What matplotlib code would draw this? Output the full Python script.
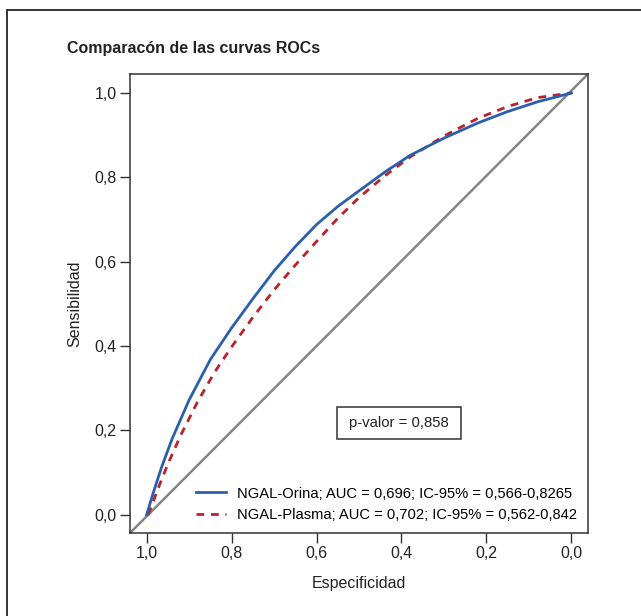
import matplotlib
matplotlib.use("Agg")
import matplotlib.pyplot as plt
from matplotlib.patches import Rectangle

plt.rcParams['font.family'] = ['Liberation Sans', 'DejaVu Sans']

# Data (Especificidad, Sensibilidad)
orina_spec = [1.0, 0.985, 0.965, 0.94, 0.90, 0.85, 0.80, 0.75, 0.70, 0.65, 0.60, 0.55, 0.50, 0.44, 0.38, 0.30, 0.22, 0.15, 0.08, 0.0]
orina_sens = [0.0, 0.050, 0.112, 0.180, 0.272, 0.368, 0.443, 0.512, 0.578, 0.636, 0.688, 0.731, 0.768, 0.812, 0.852, 0.893, 0.929, 0.956, 0.979, 1.0]
plasma_spec = [0.996, 0.97, 0.95, 0.92, 0.88, 0.84, 0.80, 0.75, 0.70, 0.65, 0.60, 0.55, 0.50, 0.44, 0.38, 0.30, 0.22, 0.15, 0.08, 0.0]
plasma_sens = [0.0, 0.070, 0.120, 0.188, 0.268, 0.338, 0.398, 0.468, 0.533, 0.592, 0.648, 0.703, 0.752, 0.803, 0.848, 0.898, 0.940, 0.968, 0.989, 1.0]
ref_spec = [1.039, -0.039]
ref_sens = [-0.043, 1.045]
ticks = [1.0, 0.8, 0.6, 0.4, 0.2, 0.0]
tick_labels = ['1,0', '0,8', '0,6', '0,4', '0,2', '0,0']
label_orina = 'NGAL-Orina; AUC = 0,696; IC-95% = 0,566-0,8265'
label_plasma = 'NGAL-Plasma; AUC = 0,702; IC-95% = 0,562-0,842'
pvalue_text = 'p-valor = 0,858'
title = 'Comparacón de las curvas ROCs'

W, H = 641, 616
fig = plt.figure(figsize=(W / 100, H / 100), dpi=100)
ax = fig.add_axes([130 / W, 83 / H, 458 / W, 459 / H])

ax.plot(ref_spec, ref_sens, color='#858585', lw=1.8, zorder=1, solid_capstyle='butt')
ax.plot(orina_spec, orina_sens, color='#2b5fae', lw=2.0, label=label_orina, zorder=3,
        solid_joinstyle='round')
ax.plot(plasma_spec, plasma_sens, color='#b8222a', lw=2.0, ls=(0, (2.8, 2.4)), label=label_plasma, zorder=2)

ax.set_xlim(1.039, -0.039)
ax.set_ylim(-0.043, 1.045)
ax.set_xticks(ticks)
ax.set_xticklabels(tick_labels)
ax.set_yticks(ticks)
ax.set_yticklabels(tick_labels)
ax.tick_params(labelsize=11.5, length=7, width=1.0, color='#333333', labelcolor='#222222', pad=2.5)
for s in ax.spines.values():
    s.set_color('#333333')
    s.set_linewidth(1.1)

ax.set_xlabel('Especificidad', fontsize=11.5, color='#222222', labelpad=11)
ax.set_ylabel('Sensibilidad', fontsize=11.5, color='#222222', labelpad=9)

# p-value box
px, py = 0.406, 0.218
ax.text(px, py, pvalue_text, ha='center', va='center', fontsize=10.7, color='#222222', zorder=5)
ax.add_patch(Rectangle((px + 0.146, py - 0.038), -0.292, 0.076, fill=True, fc='white',
                       ec='#333333', lw=1.1, zorder=4))

ax.legend(loc='lower right', frameon=False, fontsize=10.6, handlelength=2.05, handletextpad=0.75,
          borderaxespad=0.35, borderpad=0.4, labelspacing=0.5)

fig.text(67 / W, 1 - 49 / H, title, fontsize=11.5, fontweight='bold', color='#222222', va='center')

fig.patches.append(Rectangle((7 / W, -0.05), 1.2, 1 - 10 / H + 0.05, transform=fig.transFigure,
                             fill=False, ec='#333333', lw=1.4))

fig.savefig('out.png', dpi=100)
